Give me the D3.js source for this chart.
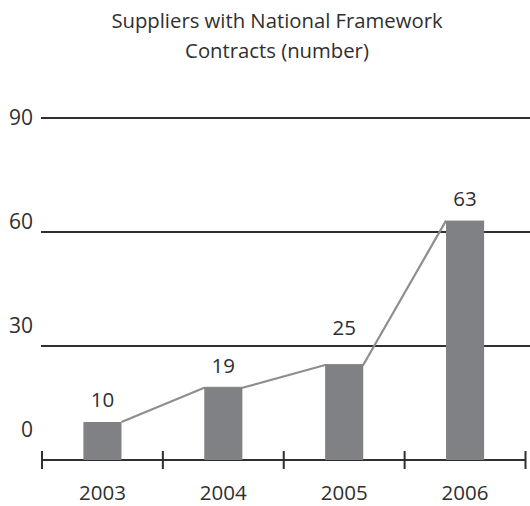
<!DOCTYPE html>
<html>
<head>
<meta charset="utf-8">
<script src="https://cdn.jsdelivr.net/npm/d3@7"></script>
<style>
  html, body { margin: 0; padding: 0; background: #fff; }
  svg { display: block; font-family: "Open Sans", "Noto Sans", sans-serif; }
</style>
</head>
<body>
<svg id="chart" width="530" height="506"></svg>
<script>
// Suppliers holding national framework contracts, by year
const years = ["2003", "2004", "2005", "2006"];
const suppliers = [10, 19, 25, 63];
const yTicks = [0, 30, 60, 90];
const titleLines = ["Suppliers with National Framework", "Contracts (number)"];

const W = 530, H = 506;
const svg = d3.select("#chart");
const ink = "#2f2f2f";
const barFill = "#808184";
const lineStroke = "#8e8e90";

const x = d3.scaleBand()
  .domain(years)
  .range([42, 525.5])
  .paddingInner(0.685)
  .paddingOuter(0.3425);

const y = d3.scaleLinear().domain([0, 90]).range([460, 118]);
// tick labels sit on their own evenly spaced ladder
const yLabel = d3.scaleLinear().domain([0, 90]).range([430, 118]);

// title
svg.append("g")
  .selectAll("text")
  .data(titleLines)
  .join("text")
  .attr("x", 277)
  .attr("y", (d, i) => 21 + i * 30)
  .attr("dy", "0.35em")
  .attr("text-anchor", "middle")
  .attr("font-size", 20.3)
  .attr("fill", ink)
  .text(d => d);

// horizontal gridlines (the zero line is the category axis)
svg.append("g")
  .selectAll("line")
  .data(yTicks.filter(d => d > 0))
  .join("line")
  .attr("x1", 41)
  .attr("x2", W)
  .attr("y1", d => y(d))
  .attr("y2", d => y(d))
  .attr("stroke", ink)
  .attr("stroke-width", 2);

// y tick labels
svg.append("g")
  .selectAll("text")
  .data(yTicks)
  .join("text")
  .attr("x", 33)
  .attr("y", d => yLabel(d))
  .attr("dy", "0.35em")
  .attr("text-anchor", "end")
  .attr("font-size", 21)
  .attr("fill", ink)
  .text(d => d);

// category axis with boundary ticks
const step = x.step();
const x0 = x.range()[0];
const bounds = d3.range(years.length + 1).map(i => x0 + i * step);
const axis = svg.append("g");
axis.append("line")
  .attr("x1", bounds[0]).attr("x2", bounds[bounds.length - 1])
  .attr("y1", y(0)).attr("y2", y(0))
  .attr("stroke", ink).attr("stroke-width", 2);
axis.selectAll("line.tick")
  .data(bounds)
  .join("line")
  .attr("class", "tick")
  .attr("x1", d => d).attr("x2", d => d)
  .attr("y1", y(0) - 9).attr("y2", y(0) + 9)
  .attr("stroke", ink).attr("stroke-width", 2);
axis.selectAll("text")
  .data(years)
  .join("text")
  .attr("x", d => x(d) + x.bandwidth() / 2)
  .attr("y", 493)
  .attr("dy", "0.35em")
  .attr("text-anchor", "middle")
  .attr("font-size", 20.5)
  .attr("fill", ink)
  .text(d => d);

const rows = years.map((yr, i) => ({ year: yr, value: suppliers[i] }));

// connector running from each bar's top edge to the next
const pts = [];
rows.forEach((r, i) => {
  const left = x(r.year), right = x(r.year) + x.bandwidth();
  if (i > 0) pts.push([left, y(r.value)]);
  if (i < rows.length - 1) pts.push([right, y(r.value)]);
});
svg.append("path")
  .attr("d", d3.line()(pts))
  .attr("fill", "none")
  .attr("stroke", lineStroke)
  .attr("stroke-width", 2.2)
  .attr("stroke-linejoin", "round");

// bars
svg.append("g")
  .selectAll("rect")
  .data(rows)
  .join("rect")
  .attr("x", d => x(d.year))
  .attr("width", x.bandwidth())
  .attr("y", d => y(d.value))
  .attr("height", d => y(0) - y(d.value))
  .attr("fill", barFill);

// value labels; 2005 is lifted clear of the connector
const lift = { "2005": 15 };
svg.append("g")
  .selectAll("text")
  .data(rows)
  .join("text")
  .attr("x", d => x(d.year) + x.bandwidth() / 2)
  .attr("y", d => y(d.value) - 22 - (lift[d.year] || 0))
  .attr("dy", "0.35em")
  .attr("text-anchor", "middle")
  .attr("font-size", 20.5)
  .attr("fill", ink)
  .text(d => d.value);
</script>
</body>
</html>
